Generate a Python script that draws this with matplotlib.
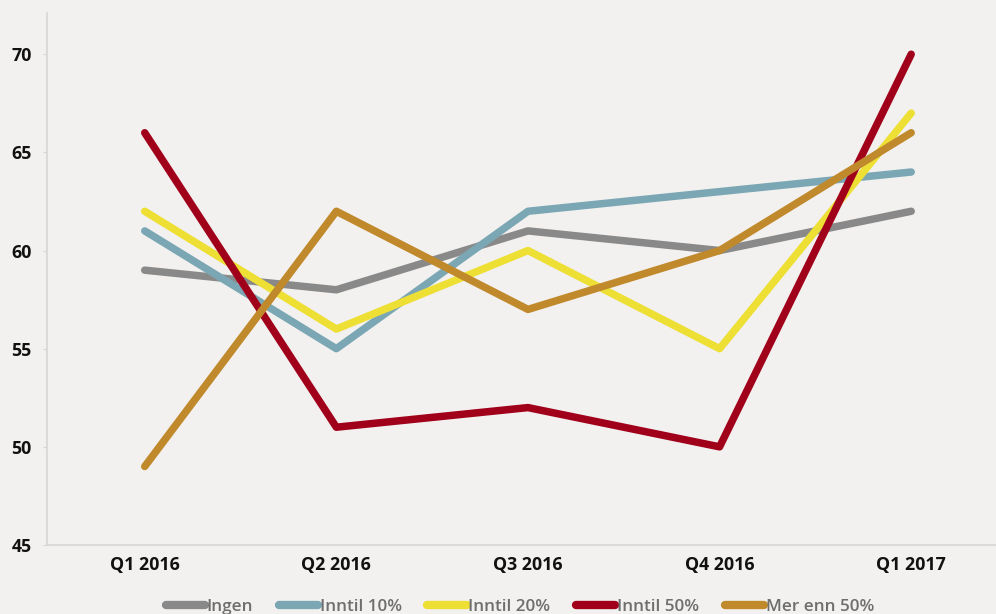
import matplotlib
matplotlib.use("Agg")
from matplotlib import pyplot as plt

quarters = ["Q1 2016", "Q2 2016", "Q3 2016", "Q4 2016", "Q1 2017"]
series_names = ["Ingen", "Inntil 10%", "Inntil 20%", "Inntil 50%", "Mer enn 50%"]
ingen = [59, 58, 61, 60, 62]
inntil_10 = [61, 55, 62, 63, 64]
inntil_20 = [62, 56, 60, 55, 67]
inntil_50 = [66, 51, 52, 50, 70]
mer_enn_50 = [49, 62, 57, 60, 66]
y_ticks = [45, 50, 55, 60, 65, 70]

colors = ["#898989", "#7ba7b4", "#eedf35", "#a1001b", "#c0892b"]
bg = "#f2f1ef"

fig = plt.figure(figsize=(9.96, 6.14), dpi=100, facecolor=bg)
ax = fig.add_axes([47 / 996, 69 / 614, 960 / 996, 532 / 614], facecolor=bg)

x = range(len(quarters))
for name, vals, c in zip(series_names, [ingen, inntil_10, inntil_20, inntil_50, mer_enn_50], colors):
    ax.plot(x, vals, color=c, lw=5.4, solid_capstyle="round", solid_joinstyle="round", label=name)

ax.set_xlim(-0.51, 4.5)
ax.set_ylim(45, 72.1)
ax.set_yticks(y_ticks)
ax.set_xticks(list(x))
ax.set_xticklabels(quarters)

for s in ["top", "right"]:
    ax.spines[s].set_visible(False)
for s in ["left", "bottom"]:
    ax.spines[s].set_color("#d6d6d6")
    ax.spines[s].set_linewidth(1.2)

ax.tick_params(axis="x", length=0, pad=8)
ax.tick_params(axis="y", length=3, color="#d6d6d6", pad=8)
for lbl in ax.get_xticklabels() + ax.get_yticklabels():
    lbl.set_fontfamily("Open Sans")
    lbl.set_fontweight("bold")
    lbl.set_fontsize(12.8)
    lbl.set_color("#111111")

leg = fig.legend(loc="center", bbox_to_anchor=(0.522, 0.012), ncol=5, frameon=False,
                 handlelength=2.3, handletextpad=0.1, columnspacing=1.5,
                 prop={"family": "Open Sans", "size": 12.3, "weight": "semibold"})
for line in leg.get_lines():
    line.set_linewidth(6)
for t in leg.get_texts():
    t.set_color("#6e6e6e")

fig.savefig("out.png", dpi=100, facecolor=bg)
